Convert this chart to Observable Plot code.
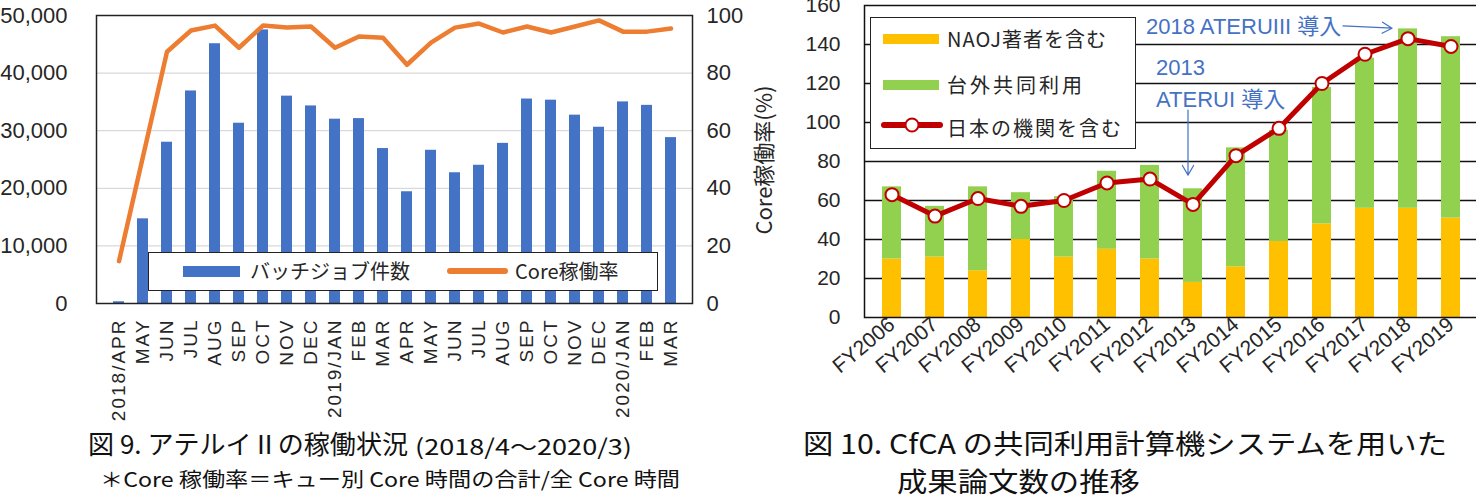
<!DOCTYPE html>
<html><head><meta charset="utf-8">
<script src="https://cdn.jsdelivr.net/npm/d3@7"></script>
<script src="https://cdn.jsdelivr.net/npm/@observablehq/plot@0.6"></script>
<style>
html,body{margin:0;padding:0;background:#fff;width:1476px;height:499px;overflow:hidden;}
body{position:relative;font-family:"Liberation Sans","Noto Sans CJK JP",sans-serif;color:#262626;}
.abs{position:absolute;}
#left{left:0;top:0;}
#right{left:740px;top:0;}
#left g[aria-label="x-axis tick label"] text{letter-spacing:2px;}
.legend{position:absolute;background:#fff;border:1.5px solid #222;box-sizing:border-box;font-family:"Noto Sans CJK JP",sans-serif;color:#262626;}
.legend .sw{position:absolute;}
.legend .tx{position:absolute;white-space:nowrap;line-height:1;}
.cap{position:absolute;white-space:nowrap;font-family:"Noto Sans CJK JP",sans-serif;transform-origin:0 50%;line-height:1;color:#111;}
.ytitle{position:absolute;white-space:nowrap;font-family:"Noto Sans CJK JP",sans-serif;font-size:22px;line-height:1;color:#262626;transform:translate(-50%,-50%) rotate(-90deg);}
</style></head><body>
<div id="left" class="abs"></div>
<div id="right" class="abs"></div>
<script>
// ---------- Figure 9 data ----------
const monthLabels = ["2018/APR","MAY","JUN","JUL","AUG","SEP","OCT","NOV","DEC","2019/JAN","FEB","MAR",
                     "APR","MAY","JUN","JUL","AUG","SEP","OCT","NOV","DEC","2020/JAN","FEB","MAR"];
const batchJobs = [300,14700,28000,36900,45100,31300,47500,36000,34300,32000,32100,26900,
                   19400,26600,22700,24000,27800,35500,35300,32700,30600,35000,34400,28800];
const coreRate = [14.7,51,87.4,94.8,96.5,88.8,96.5,95.8,96.2,88.8,92.7,92.3,
                  82.9,90.6,95.8,97.2,94.1,96.2,94.1,96.2,98.3,94.4,94.4,95.5];
const leftTicks = [0,10000,20000,30000,40000,50000];
const legend9 = ["バッチジョブ件数","Core稼働率"];

// ---------- Figure 10 data ----------
const fiscalYears = ["FY2006","FY2007","FY2008","FY2009","FY2010","FY2011","FY2012",
                     "FY2013","FY2014","FY2015","FY2016","FY2017","FY2018","FY2019"];
const naojPapers     = [30,31,24,40,31,35,30,18,26,39,48,56,56,51];
const externalPapers = [37,26,43,24,31,40,48,48,61,57,70,77,92,93];
const japanInstPapers= [63,52,61,57,60,69,71,58,83,97,120,135,143,139];
const rightTicks = [0,20,40,60,80,100,120,140,160];
const legend10 = ["NAOJ著者を含む","台外共同利用","日本の機関を含む"];

const FONT = "'Liberation Sans', Arial, 'Noto Sans CJK JP', sans-serif";
const rateFactor = 50000/100;

// ---------- Figure 9 chart ----------
const leftPlot = Plot.plot({
  width: 760, height: 430,
  marginLeft: 96, marginRight: 68, marginTop: 15, marginBottom: 127,
  style: {fontFamily: FONT, color: "#262626", background: "transparent", maxWidth: "none", overflow: "visible"},
  x: {type: "band", domain: d3.range(monthLabels.length), paddingInner: 0.55, paddingOuter: 0.275},
  y: {domain: [0, 50000]},
  marks: [
    Plot.ruleY(leftTicks.slice(1, -1), {stroke: "#d9d9d9", strokeWidth: 1.3}),
    Plot.barY(batchJobs, {x: (d, i) => i, y: d => d, fill: "#4472C4"}),
    Plot.lineY(coreRate, {x: (d, i) => i, y: d => d * rateFactor, stroke: "#ED7D31", strokeWidth: 4.5, strokeLinejoin: "round", strokeLinecap: "round"}),
    Plot.frame({stroke: "#222", strokeWidth: 1.5}),
    Plot.axisY({anchor: "left", ticks: leftTicks, tickFormat: d3.format(","), tickSize: 0, tickPadding: 29, fontSize: 22, label: null}),
    Plot.axisY({anchor: "right", ticks: leftTicks, tickFormat: d => d / rateFactor, tickSize: 0, tickPadding: 14, fontSize: 22, label: null}),
    Plot.axisX({tickFormat: i => monthLabels[i], tickSize: 0, tickRotate: -90, tickPadding: 15, fontSize: 19, label: null})
  ]
});
document.getElementById("left").appendChild(leftPlot);

// ---------- Figure 10 chart ----------
const stacked = fiscalYears.flatMap((fy, i) => [
  {fy, series: legend10[0], v: naojPapers[i]},
  {fy, series: legend10[1], v: externalPapers[i]}
]);
const ann = [{}];
const rightPlot = Plot.plot({
  width: 740, height: 420,
  marginLeft: 124, marginRight: 1, marginTop: 5, marginBottom: 103,
  style: {fontFamily: FONT, color: "#262626", background: "transparent", maxWidth: "none", overflow: "visible"},
  x: {type: "band", domain: fiscalYears, paddingInner: 0.55, paddingOuter: 0.275},
  y: {domain: [0, 160]},
  color: {domain: legend10.slice(0, 2), range: ["#FFC000", "#92D050"]},
  marks: [
    Plot.ruleY(rightTicks.slice(1, -1), {stroke: "#111", strokeWidth: 1.3}),
    Plot.barY(stacked, {x: "fy", y: "v", fill: "series"}),
    Plot.frame({stroke: "#111", strokeWidth: 1.5}),
    Plot.lineY(japanInstPapers, {x: (d, i) => fiscalYears[i], y: d => d, stroke: "#C00000", strokeWidth: 5, strokeLinejoin: "round"}),
    Plot.dot(japanInstPapers, {x: (d, i) => fiscalYears[i], y: d => d, r: 6.5, fill: "white", stroke: "#C00000", strokeWidth: 2}),
    Plot.text(ann, {x: () => "FY2012", y: () => 149, text: () => "2018 ATERUIII 導入", textAnchor: "start", dx: -4, fill: "#4472C4", fontSize: 22}),
    Plot.text(ann, {x: () => "FY2012", y: () => 128, text: () => "2013", textAnchor: "start", dx: 6, fill: "#4472C4", fontSize: 22}),
    Plot.text(ann, {x: () => "FY2012", y: () => 111.5, text: () => "ATERUI 導入", textAnchor: "start", dx: 6, fill: "#4472C4", fontSize: 22}),
    Plot.arrow(ann, {x1: () => "FY2016", x2: () => "FY2018", y1: () => 150, y2: () => 148, insetStart: 21, insetEnd: 16, stroke: "#4472C4", strokeWidth: 1.2, headLength: 14}),
    Plot.arrow(ann, {x1: () => "FY2013", x2: () => "FY2013", y1: () => 106.4, y2: () => 73, dx: -5, stroke: "#4472C4", strokeWidth: 1.2, headLength: 14}),
    Plot.axisY({ticks: rightTicks, tickSize: 0, tickPadding: 24, fontSize: 21, label: null}),
    Plot.axisX({tickSize: 0, tickRotate: -40, tickPadding: 4, fontSize: 21, label: null})
  ]
});
document.getElementById("right").appendChild(rightPlot);

// ---------- legends, titles, captions ----------
function add(html) { const d = document.createElement("div"); d.innerHTML = html; const el = d.firstElementChild; document.body.appendChild(el); return el; }

add(`<div class="legend" style="left:148px;top:252px;width:510px;height:39px;">
  <div class="sw" style="left:34px;top:13px;width:57px;height:11px;background:#4472C4"></div>
  <div class="tx" style="left:101px;top:8px;font-size:20px;">${legend9[0]}</div>
  <div class="sw" style="left:298px;top:15px;width:61px;height:6px;border-radius:3px;background:#ED7D31"></div>
  <div class="tx" style="left:366px;top:8px;font-size:20px;">${legend9[1]}</div>
</div>`);

add(`<div class="legend" style="left:870px;top:17px;width:266px;height:132px;">
  <div class="sw" style="left:12px;top:16px;width:56px;height:10px;background:#FFC000"></div>
  <div class="tx" style="left:76px;top:11px;font-size:20px;letter-spacing:1px;">${legend10[0]}</div>
  <div class="sw" style="left:12px;top:62px;width:56px;height:10px;background:#92D050"></div>
  <div class="tx" style="left:76px;top:57px;font-size:20px;letter-spacing:3px;">${legend10[1]}</div>
  <svg class="sw" style="left:10px;top:96px" width="62" height="22"><line x1="3" y1="11" x2="59" y2="11" stroke="#C00000" stroke-width="6" stroke-linecap="round"/><circle cx="31" cy="11" r="6.5" fill="white" stroke="#C00000" stroke-width="2"/></svg>
  <div class="tx" style="left:76px;top:100px;font-size:20px;letter-spacing:2px;">${legend10[2]}</div>
</div>`);

add(`<div class="ytitle" style="left:762px;top:160px;">Core稼働率(%)</div>`);

function caption(html, left, centerY, fontSize, width) {
  const el = add(`<div class="cap" style="left:${left}px;top:${centerY - fontSize / 2}px;font-size:${fontSize}px;">${html}</div>`);
  const w = el.getBoundingClientRect().width;
  el.style.transform = `scaleX(${width / w})`;
  return el;
}
caption(`図 9. アテルイⅡの稼働状況`, 88, 443, 26, 320);
caption(`(2018/4～2020/3)`, 415, 445, 22, 217);
caption(`＊Core 稼働率＝キュー別 Core 時間の合計/全 Core 時間`, 100, 479, 20, 580);
caption(`図 10. CfCA の共同利用計算機システムを用いた`, 803, 442, 27, 644);
caption(`成果論文数の推移`, 897, 480, 27, 243);
</script>
</body></html>
